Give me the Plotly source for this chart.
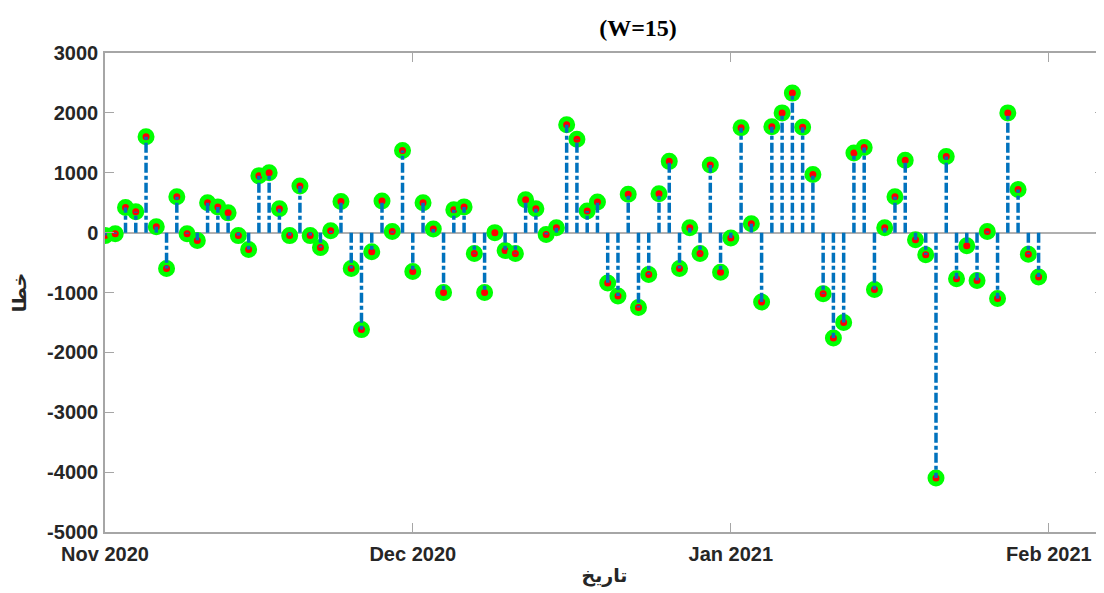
import plotly.graph_objects as go
import pandas as pd

start_date = "2020-11-01"
errors = [
    -50, -20, 420, 350, 1600, 100, -600, 600, -20, -130,
    500, 430, 330, -50, -280, 950, 1000, 400, -50, 780,
    -50, -250, 30, 520, -600, -1620, -320, 530, 20, 1370,
    -650, 500, 60, -1000, 380, 430, -350, -1000, 0, -300,
    -350, 550, 400, -30, 80, 1800, 1560, 360, 510, -840,
    -1060, 640, -1250, -700, 650, 1190, -600, 80, -350, 1130,
    -660, -90, 1750, 150, -1160, 1770, 2000, 2330, 1760, 970,
    -1020, -1760, -1500, 1330, 1420, -950, 80, 600, 1210, -120,
    -370, -4100, 1270, -770, -220, -800, 20, -1100, 2000, 720,
    -360, -740,
]
dates = pd.date_range(start_date, periods=len(errors), freq="D")

y_ticks = [3000, 2000, 1000, 0, -1000, -2000, -3000, -4000, -5000]
y_ticklabels = ["3000", "2000", "1000", "0", "-1000", "-2000", "-3000", "-4000", "-5000"]
x_ticks = ["2020-11-01", "2020-12-01", "2021-01-01", "2021-02-01"]
x_ticklabels = ["Nov 2020", "Dec 2020", "Jan 2021", "Feb 2021"]

title_text = "(W=15)"
xlabel = "تاریخ"
ylabel = "خطا"

# stems from the data
sx, sy = [], []
for d, v in zip(dates, errors):
    sx += [d, d, None]
    sy += [0, v, None]

fig = go.Figure()
fig.add_trace(go.Scatter(
    x=dates, y=errors, mode="markers",
    marker=dict(size=12, color="#FF0000", line=dict(color="#00FF00", width=5)),
    showlegend=False, hoverinfo="skip",
))
fig.add_trace(go.Scatter(
    x=sx, y=sy, mode="lines",
    line=dict(color="#0072BD", width=3.5, dash="10px,3px,4px,3px"),
    showlegend=False, hoverinfo="skip",
))

axis_color = "#a6a6a6"
tick_font = dict(family="Liberation Sans, Arial, sans-serif", size=20, color="#262626")
label_font = dict(family="DejaVu Sans, Noto Sans, sans-serif", size=19, color="#262626")

# the page body adds an 8px offset; margins below compensate for it
fig.update_layout(
    width=1104, height=593,
    margin=dict(l=97, r=8, t=45, b=69, autoexpand=False),
    plot_bgcolor="white", paper_bgcolor="white",
    title=dict(text="<b>" + title_text + "</b>", x=630 / 1104, xanchor="center",
               y=1 - 20 / 593, yanchor="middle", automargin=False,
               font=dict(family="Liberation Serif, Times New Roman, serif", size=24, color="black")),
    xaxis=dict(
        range=["2020-11-01", "2021-02-06 09:00"], automargin=False,
        tickvals=x_ticks, ticktext=["<b>%s</b>" % t for t in x_ticklabels],
        ticks="inside", ticklen=9, tickwidth=1, tickcolor=axis_color,
        showline=True, linecolor=axis_color, linewidth=1.5, mirror="ticks",
        showgrid=False, zeroline=False, tickfont=tick_font, ticklabelstandoff=3,
        title=dict(text="<b>" + xlabel + "</b>", standoff=5, font=label_font),
    ),
    yaxis=dict(
        range=[-5000, 3000], automargin=False,
        tickvals=y_ticks, ticktext=["<b>%s</b>" % t for t in y_ticklabels],
        ticks="inside", ticklen=9, tickwidth=1, tickcolor=axis_color,
        showline=True, linecolor=axis_color, linewidth=1.5, mirror="ticks",
        showgrid=False, zeroline=True, zerolinecolor="#b0b0b0", zerolinewidth=1.5,
        tickfont=tick_font, ticklabelstandoff=1,
        title=dict(text="<b>" + ylabel + "</b>", standoff=16, font=label_font),
    ),
)

fig.write_html("out.html")
